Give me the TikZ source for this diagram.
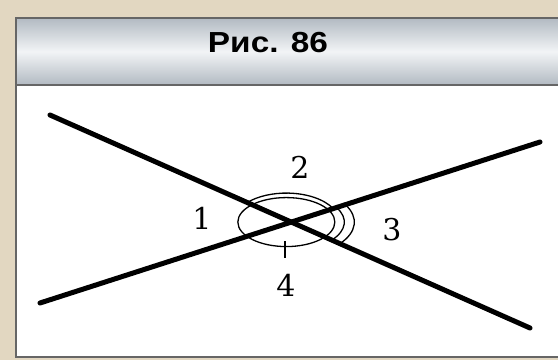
\documentclass[tikz,border=0pt]{standalone}
\usepackage{fontspec}
\usepackage{xcolor}
\usetikzlibrary{calc}
\newfontfamily\titlefont[FakeStretch=1.15]{Liberation Sans}
\newfontfamily\numfont{DejaVu Serif}
\definecolor{paper}{RGB}{226,215,193}
\definecolor{bandgray}{RGB}{178,186,194}
\definecolor{bandlight}{RGB}{242,244,246}

\begin{document}
\begin{tikzpicture}[x=1pt, y=1pt,
    frameline/.style={draw=black!60, line width=1.5pt},
    leg/.style={line width=5pt, line cap=round},
    anglearc/.style={line width=1.3pt},
    num/.style={font=\numfont\fontsize{30}{36}\selectfont, inner sep=0pt}
]
% page and frame
\fill[paper] (0,0) rectangle (558,360);
\useasboundingbox (0,0) rectangle (558,360);
\fill[white] (16,3) rectangle (558,342);
\shade[top color=bandgray, bottom color=bandgray, middle color=bandlight] (16,275) rectangle (558,342);
\draw[frameline] (558,342) -- (16,342) -- (16,3) -- (558,3);
\draw[frameline] (16,275) -- (558,275);
\node[font=\titlefont\bfseries\fontsize{29}{34}\selectfont, inner sep=0pt] (title) at (268,317) {Рис. 86};

% the two lines
\coordinate (l1a) at (50,245);
\coordinate (l1b) at (530,32);
\coordinate (l2a) at (40,57);
\coordinate (l2b) at (540,218);
\draw[leg] (l1a) -- (l1b);
\draw[leg] (l2a) -- (l2b);
\coordinate (O) at (intersection of l1a--l1b and l2a--l2b);
\coordinate (E) at ($(O)+(-5,0)$);

% angle marks
\draw[anglearc] (E) ellipse [x radius=48.5pt, y radius=24.5pt];
\draw[anglearc] ($(E)+(27.8:53pt and 29pt)$) arc[start angle=27.8, end angle=137.6, x radius=53pt, y radius=29pt];
\draw[anglearc] ($(E)+(-38.3:58pt and 29pt)$) arc[start angle=-38.3, end angle=30, x radius=58pt, y radius=29pt];
\draw[anglearc] ($(E)+(-38:68pt and 35pt)$) arc[start angle=-38, end angle=29.7, x radius=68pt, y radius=35pt];
\coordinate (tk1) at (285,119);
\coordinate (tk2) at (285,102);
\draw[anglearc] (tk1) -- (tk2);

% labels
\node[num] (n1) at (202,142) {1};
\node[num] (n2) at (300,193) {2};
\node[num] (n3) at (392,130) {3};
\node[num] (n4) at (286,75) {4};
\end{tikzpicture}
\end{document}
